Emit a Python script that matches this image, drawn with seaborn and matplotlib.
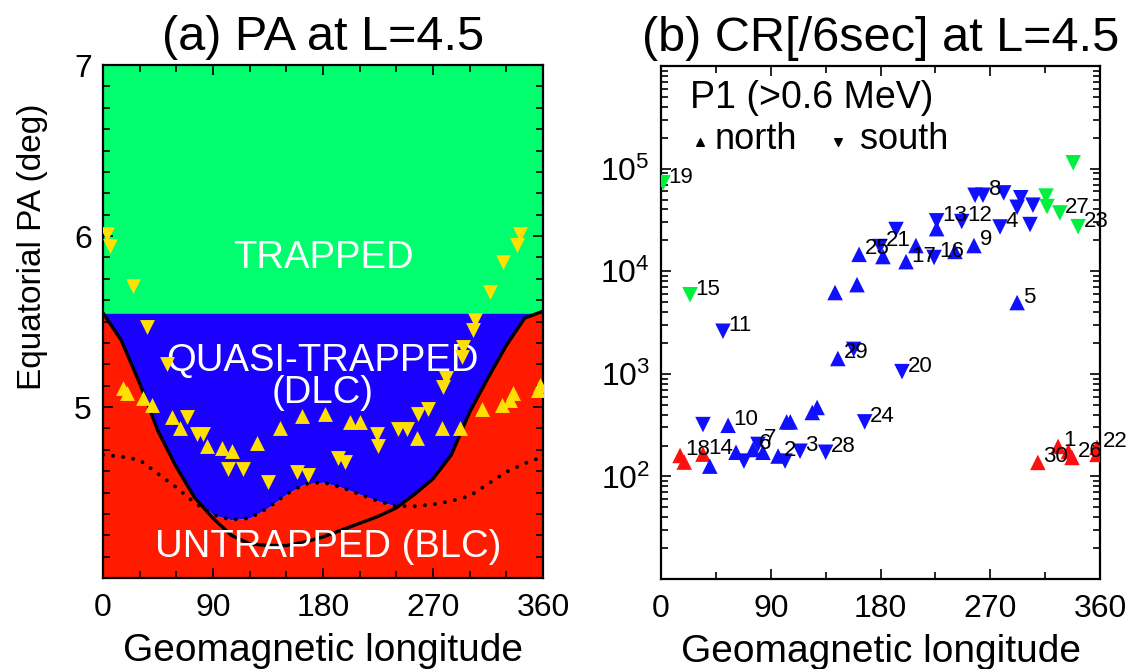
import numpy as np
import pandas as pd
import matplotlib
matplotlib.use("Agg")
import matplotlib.pyplot as plt
import seaborn as sns
from matplotlib.ticker import FixedLocator, MultipleLocator, LogLocator, NullFormatter

# ---------------- data: panel (a) ----------------
pa_lon = [0, 15, 30, 45, 60, 75, 90, 105, 120, 135, 150, 165, 180, 195, 210, 225, 240, 255, 270, 285, 300, 315, 330, 345, 360]
dlc_edge = [5.55, 5.39, 5.14, 4.86, 4.65, 4.47, 4.35, 4.25, 4.20, 4.19, 4.19, 4.21, 4.24, 4.28, 4.32, 4.36, 4.41, 4.49, 4.58, 4.72, 4.97, 5.17, 5.36, 5.52, 5.56]
blc_edge = [4.72, 4.71, 4.69, 4.61, 4.53, 4.44, 4.37, 4.34, 4.35, 4.41, 4.49, 4.55, 4.56, 4.53, 4.49, 4.45, 4.42, 4.42, 4.43, 4.45, 4.48, 4.55, 4.62, 4.67, 4.71]
trap_edge = 5.55
pa_ymin, pa_ymax = 4.0, 7.0

south_lon = [3.3, 5.7, 24.5, 36, 52, 341, 339, 327, 316.6, 304, 303, 294.5, 293.7, 281, 278, 68.7, 77, 82, 102, 114.5,
             135, 159, 168, 192, 198, 224, 225, 241, 248.7, 257.7, 266]
south_pa = [6.01, 5.94, 5.71, 5.47, 5.25, 6.01, 5.95, 5.85, 5.67, 5.51, 5.45, 5.35, 5.29, 5.17, 5.12, 4.94, 4.84, 4.84, 4.64, 4.64,
            4.56, 4.62, 4.60, 4.70, 4.68, 4.84, 4.77, 4.87, 4.87, 4.96, 4.99]
north_lon = [16, 19.6, 32.7, 40, 357.5, 356, 335.5, 333, 326.5, 310, 56.5, 63, 85, 97, 105.5, 126, 145, 163, 181.6, 202,
             210, 257, 277, 292]
north_pa = [5.11, 5.08, 5.05, 5.01, 5.13, 5.10, 5.08, 5.04, 5.01, 4.99, 4.94, 4.88, 4.77, 4.76, 4.74, 4.79, 4.88, 4.95, 4.96, 4.91,
            4.91, 4.82, 4.88, 4.88]

# ---------------- data: panel (b) ----------------
cr_lon = [1.7, 23.8, 50.8, 142.7, 160.7, 162.4, 179.6, 182, 192.7, 200.9, 209, 223.9, 241, 226, 226, 246.6, 256.6, 257.5, 264, 281,
          278, 295, 292, 305, 302.6, 292, 315.7, 316.5, 327, 342, 338, 145, 158, 197.6, 34.4, 55, 15.6, 19, 34.4, 40,
          61.5, 68, 75.4, 79.5, 83.6, 96, 101.7, 114, 135, 103, 106, 124, 128, 167, 309, 325.6, 334, 337, 357.5, 357.5]
cr_rate = [7.3e4, 5.9e3, 2.6e3, 6.2e3, 7.4e3, 1.46e4, 1.74e4, 1.39e4, 2.55e4, 1.24e4, 1.78e4, 1.36e4, 1.56e4, 3.1e4, 2.6e4, 3.05e4, 1.78e4, 5.5e4, 5.5e4, 5.8e4,
           2.7e4, 5.2e4, 4.2e4, 4.4e4, 2.85e4, 4.95e3, 5.4e4, 4.27e4, 3.7e4, 2.72e4, 1.14e5, 1.41e3, 1.73e3, 1.05e3, 3.2e2, 3.15e2, 1.6e2, 1.38e2, 1.65e2, 1.26e2,
           1.72e2, 1.41e2, 1.83e2, 2.05e2, 1.72e2, 1.58e2, 1.41e2, 1.76e2, 1.72e2, 3.4e2, 3.4e2, 4.2e2, 4.7e2, 3.4e2, 1.37e2, 1.96e2, 1.75e2, 1.53e2, 1.92e2, 1.64e2]
cr_hemi = ["S", "S", "S", "N", "N", "N", "S", "N", "S", "N", "N", "S", "N", "S", "N", "S", "N", "S", "S", "S",
           "S", "S", "S", "S", "S", "N", "S", "S", "S", "S", "S", "N", "S", "S", "S", "N", "N", "N", "N", "N",
           "N", "S", "N", "S", "N", "N", "S", "S", "S", "N", "N", "N", "N", "S", "N", "N", "N", "N", "N", "N"]
cr_group = ["green", "green", "blue", "blue", "blue", "blue", "blue", "blue", "blue", "blue", "blue", "blue", "blue", "blue", "blue", "blue", "blue", "blue", "blue", "blue",
            "blue", "blue", "blue", "blue", "blue", "blue", "green", "green", "green", "green", "green", "blue", "blue", "blue", "blue", "blue", "red", "red", "red", "blue",
            "blue", "blue", "blue", "blue", "blue", "blue", "blue", "blue", "blue", "blue", "blue", "blue", "blue", "blue", "red", "red", "red", "red", "red", "red"]
cr_label = ["19", "15", "11", "", "", "25", "21", "", "", "17", "", "16", "", "13", "", "12", "9", "", "8", "",
            "4", "", "", "", "", "5", "", "", "27", "23", "", "29", "", "20", "", "10", "18", "", "14", "",
            "", "", "6", "7", "", "2", "", "3", "28", "", "", "", "", "24", "30", "1", "", "26", "22", ""]

x_ticks = [0, 90, 180, 270, 360]
pa_ticks = [5, 6, 7]
cr_ticks = [1e2, 1e3, 1e4, 1e5]

# ---------------- style ----------------
sns.set_style("ticks")
plt.rcParams["font.family"] = ["Liberation Sans", "DejaVu Sans"]
plt.rcParams["mathtext.fontset"] = "custom"
plt.rcParams["mathtext.rm"] = "Liberation Sans"
plt.rcParams["mathtext.it"] = "Liberation Sans"
plt.rcParams["mathtext.bf"] = "Liberation Sans"
for k in ("text.color", "axes.labelcolor", "xtick.color", "ytick.color", "axes.edgecolor"):
    plt.rcParams[k] = "black"

C_GREEN_FILL = "#00FF6E"
C_BLUE_FILL = "#1A00FF"
C_RED_FILL = "#FF1A00"
C_YELLOW = "#FFE000"
grp_colors = {"blue": "#1010FF", "green": "#00F040", "red": "#FF1010"}
hemi_marker = {"N": "^", "S": "v"}

fig = plt.figure(figsize=(11.35, 6.69), dpi=100)
ax1 = fig.add_axes([0.0907, 0.136, 0.3877, 0.7668])
ax2 = fig.add_axes([0.5824, 0.1345, 0.3868, 0.7668])

TICK_FS = 23
LABEL_FS = 28
TITLE_FS = 35

# ---------------- panel (a) ----------------
x = np.array(pa_lon, dtype=float)
lower = np.maximum(np.array(dlc_edge), np.array(blc_edge))
ax1.fill_between(x, pa_ymin, lower, color=C_RED_FILL, lw=0, zorder=0)
ax1.fill_between(x, lower, trap_edge, color=C_BLUE_FILL, lw=0, zorder=0)
ax1.fill_between(x, trap_edge, pa_ymax, color=C_GREEN_FILL, lw=0, zorder=0)

sns.lineplot(x=pa_lon, y=blc_edge, ax=ax1, color="black", lw=2.8, linestyle=(0, (0.01, 2.6)),
             dash_capstyle="round", zorder=2)
sns.lineplot(x=pa_lon, y=dlc_edge, ax=ax1, color="black", lw=2.4, zorder=3)

REG_FS = 27.5
ax1.text(180, 5.87, "TRAPPED", color="white", fontsize=REG_FS, ha="center", va="center", zorder=4)
ax1.text(180, 5.27, "QUASI-TRAPPED", color="white", fontsize=REG_FS, ha="center", va="center", zorder=4)
ax1.text(180, 5.08, "(DLC)", color="white", fontsize=REG_FS, ha="center", va="center", zorder=4)
ax1.text(184, 4.18, "UNTRAPPED (BLC)", color="white", fontsize=REG_FS, ha="center", va="center", zorder=4)

sns.scatterplot(x=south_lon, y=south_pa, ax=ax1, marker="v", s=115, color=C_YELLOW, linewidth=0, zorder=5)
sns.scatterplot(x=north_lon, y=north_pa, ax=ax1, marker="^", s=115, color=C_YELLOW, linewidth=0, zorder=5)

ax1.set_xlim(0, 360)
ax1.set_ylim(pa_ymin, pa_ymax)
ax1.xaxis.set_major_locator(FixedLocator(x_ticks))
ax1.xaxis.set_minor_locator(MultipleLocator(30))
ax1.yaxis.set_major_locator(FixedLocator(pa_ticks))
ax1.yaxis.set_minor_locator(MultipleLocator(0.125))
ax1.set_title("(a) PA at L=4.5", fontsize=TITLE_FS, pad=11)
ax1.set_xlabel("Geomagnetic longitude", fontsize=LABEL_FS, labelpad=7)
ax1.set_ylabel("Equatorial PA (deg)", fontsize=24)
ax1.yaxis.set_label_coords(-0.125, 0.645)

# ---------------- panel (b) ----------------
df = pd.DataFrame({"lon": cr_lon, "rate": cr_rate, "hemi": cr_hemi, "group": cr_group, "label": cr_label})
sns.scatterplot(data=df, x="lon", y="rate", hue="group", style="hemi", palette=grp_colors,
                markers=hemi_marker, s=125, linewidth=0, ax=ax2, legend=False, zorder=3)
for _, r in df.iterrows():
    if r["label"]:
        ax2.annotate(r["label"], (r["lon"], r["rate"]), xytext=(4, 4), textcoords="offset points",
                     ha="left", va="center", fontsize=16, color="black", zorder=4, annotation_clip=False)

ax2.set_yscale("log")
ax2.set_xlim(0, 360)
ax2.set_ylim(1e1, 1e6)
ax2.xaxis.set_major_locator(FixedLocator(x_ticks))
ax2.xaxis.set_minor_locator(MultipleLocator(45))
ax2.yaxis.set_major_locator(FixedLocator(cr_ticks))
ax2.set_yticklabels([r"$10^{%d}$" % int(np.log10(v)) for v in cr_ticks])
ax2.yaxis.set_minor_locator(LogLocator(base=10, subs=np.arange(2, 10)))
ax2.yaxis.set_minor_formatter(NullFormatter())
ax2.set_title("(b) CR[/6sec] at L=4.5", fontsize=TITLE_FS, pad=11)
ax2.set_xlabel("Geomagnetic longitude", fontsize=LABEL_FS, labelpad=7)
ax2.set_ylabel("")

ax2.text(0.066, 0.937, "P1 (>0.6 MeV)", transform=ax2.transAxes, fontsize=27, ha="left", va="center")
ax2.scatter([0.089], [0.852], marker="^", s=30, color="black", transform=ax2.transAxes, zorder=5)
ax2.text(0.123, 0.856, "north", transform=ax2.transAxes, fontsize=26, ha="left", va="center")
ax2.scatter([0.403], [0.852], marker="v", s=30, color="black", transform=ax2.transAxes, zorder=5)
ax2.text(0.453, 0.856, "south", transform=ax2.transAxes, fontsize=26, ha="left", va="center")

for ax in (ax1, ax2):
    for sp in ax.spines.values():
        sp.set_visible(True)
        sp.set_linewidth(1.6)
        sp.set_color("black")
    ax.tick_params(which="both", direction="in", top=True, right=True, bottom=True, left=True,
                   colors="black", width=1.2)
    ax.tick_params(which="major", length=7, labelsize=TICK_FS)
    ax.tick_params(which="minor", length=5)
    ax.tick_params(axis="x", which="major", pad=11)
    ax.tick_params(axis="y", which="major", pad=8)

fig.savefig("out.png", dpi=100)
